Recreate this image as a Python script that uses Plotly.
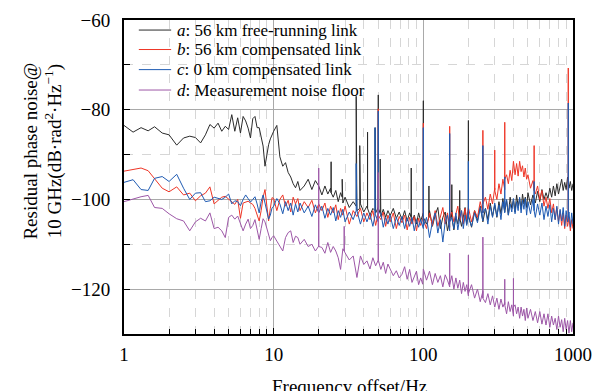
import plotly.graph_objects as go

# ---------------- data ----------------
F_LOW = [1.0, 1.15, 1.3, 1.45, 1.6, 1.8, 2.0, 2.25, 2.5, 2.75, 3.0, 3.25, 3.5, 3.75,
         4.0, 4.25, 4.5, 4.75, 5.0, 5.25, 5.5, 5.75, 6.0, 6.25, 6.5, 6.75, 7.0, 7.25,
         7.5, 7.75, 8.0, 8.25, 8.5, 8.75, 9.0, 9.25, 9.5, 9.75]
F_MID = [10, 10.5, 11, 11.5, 12, 12.5, 13, 13.5, 14, 14.5,
         15, 16, 17, 18, 19, 20, 21, 22, 23, 24, 25, 26, 27, 28, 29, 30,
         32, 34, 36, 38, 40, 42, 44, 46, 48, 50, 52, 54, 56, 58, 60,
         63, 66, 69, 72, 75, 78, 81, 84, 87, 90, 93, 96, 99]
F_HIGH = [100, 105, 110, 115, 120, 125, 130, 135, 140, 145, 150, 155, 160, 165, 170, 175, 180, 185, 190, 195,
          200, 210, 220, 230, 240, 250, 260, 270, 280, 290, 300, 310, 320, 330, 340, 350, 360, 370, 380, 390,
          400, 410, 420, 430, 440, 450, 460, 470, 480, 490,
          500, 520, 540, 560, 580, 600, 620, 640, 660, 680, 700, 720, 740, 760, 780, 800, 820, 840, 860, 880,
          900, 920, 940, 960, 980, 1000]

# a: 56 km free-running link
A_LOW = [-83.5, -85.0, -84.0, -84.7, -83.8, -85.2, -85.6, -87.9, -86.3, -85.9, -86.2, -87.4, -85.6, -83.3,
         -84.1, -83.0, -84.8, -83.7, -84.4, -81.1, -84.8, -81.8, -85.2, -81.5, -82.5, -84.1, -86.3, -82.0,
         -81.5, -84.0, -84.0, -86.0, -88.1, -92.6, -90.0, -87.8, -86.5, -85.6]
A_MID = [-84.8, -83.5, -90.5, -92.6, -91.8, -94.0, -95.0, -96.5, -97.4, -96.0,
         -98.0, -97.0, -95.5, -97.8, -95.8, -97.0, -99.0, -97.0, -98.8, -97.5, -99.5, -98.0, -100.5, -98.5, -100.8, -99.5,
         -101.8, -100.5, -102.5, -101.0, -102.8, -101.5, -103.5, -102.0, -103.0, -101.8, -103.8, -102.2, -104.0, -102.5, -103.6,
         -102.0, -104.2, -102.8, -104.5, -102.5, -104.8, -103.0, -105.0, -103.5, -105.5, -103.0, -104.8, -103.5]
A_HIGH = [-103.0, -105.5, -102.5, -106.0, -103.5, -101.8, -106.5, -104.0, -102.8, -107.0,
          -104.5, -102.5, -106.8, -103.8, -105.5, -102.0, -106.0, -104.2, -101.8, -105.5,
          -103.0, -106.2, -102.5, -104.8, -101.5, -105.0, -102.0, -104.5, -100.8, -103.8,
          -101.2, -104.0, -100.5, -103.2, -99.8, -102.8, -100.2, -103.5, -99.5, -102.0,
          -100.0, -102.8, -99.0, -101.5, -99.8, -102.2, -98.8, -101.0, -99.5, -101.8,
          -98.5, -101.2, -99.0, -100.8, -98.2, -100.5, -97.8, -100.0, -98.5, -99.8,
          -97.5, -99.5, -97.0, -99.2, -96.5, -98.8, -97.2, -95.5, -98.0, -96.2,
          -97.8, -95.0, -97.5, -96.0, -98.0, -96.5]
A_SPIKES = [(24.2, -98.5, -91.6), (28.7, -99.5, -95.5), (35.6, -101.5, -77.0), (37.6, -102.0, -88.0),
            (42.4, -102.0, -85.0), (47.6, -102.5, -84.0), (50.0, -102.0, -76.7), (51.5, -103.0, -91.0),
            (83.0, -104.0, -93.0), (100.0, -104.0, -78.0), (109.0, -104.0, -97.0), (155.0, -104.0, -96.7),
            (175.0, -104.0, -98.0), (200.0, -103.5, -82.4)]

# b: 56 km compensated link
B_LOW = [-93.7, -93.3, -93.0, -93.6, -95.5, -97.5, -98.3, -97.2, -99.0, -98.6, -100.3, -99.2, -98.6, -97.2,
         -101.0, -100.2, -99.5, -99.3, -100.0, -100.6, -101.1, -100.0, -104.2, -100.8, -100.5, -100.4, -100.8, -101.1,
         -102.0, -103.2, -104.8, -102.5, -99.5, -97.8, -101.5, -104.8, -102.0, -99.6]
B_MID = [-99.8, -102.5, -100.0, -99.0, -101.5, -100.2, -102.8, -99.5, -101.0, -99.8,
         -102.5, -100.5, -101.8, -100.2, -103.0, -101.0, -102.5, -100.8, -104.0, -101.5, -103.0, -101.2, -104.5, -102.0, -103.5, -101.5,
         -105.5, -102.5, -103.8, -102.0, -105.0, -103.0, -104.5, -102.5, -105.8, -103.0, -104.5, -102.8, -106.0, -103.5, -105.0,
         -103.0, -106.5, -103.8, -105.2, -103.5, -106.8, -104.0, -105.5, -103.8, -107.0, -104.2, -105.8, -104.5]
B_HIGH = [-104.0, -106.5, -103.0, -105.8, -102.5, -106.0, -103.5, -101.8, -105.5, -103.0,
          -106.2, -102.8, -105.0, -103.2, -101.5, -104.8, -102.5, -105.5, -102.0, -104.5,
          -101.8, -105.0, -102.5, -104.0, -100.5, -103.0, -99.5, -102.2, -98.8, -101.0,
          -97.5, -100.0, -96.5, -98.8, -95.5, -97.8, -94.5, -96.5, -93.5, -95.8,
          -91.5, -94.5, -92.0, -94.8, -91.5, -93.8, -92.5, -95.0, -93.0, -95.5,
          -94.5, -97.5, -95.8, -98.8, -97.0, -100.0, -98.0, -101.5, -99.5, -102.0,
          -99.8, -103.0, -101.0, -104.5, -101.8, -105.0, -102.5, -105.8, -103.0, -106.5,
          -103.5, -106.0, -104.0, -107.0, -104.5, -106.5]
B_SPIKES = [(50.0, -103.5, -79.8), (100.0, -104.5, -83.0), (150.0, -104.0, -83.7), (250.0, -101.0, -84.6),
            (300.0, -98.0, -89.0), (350.0, -95.5, -82.8), (550.0, -98.0, -88.0), (930.0, -105.0, -70.7)]

# c: 0 km compensated link
C_LOW = [-96.2, -95.6, -97.8, -98.0, -95.3, -94.9, -96.0, -94.4, -97.5, -100.0, -98.6, -98.5, -100.5, -100.3,
         -99.5, -99.8, -100.0, -99.5, -98.8, -101.0, -100.3, -100.5, -101.4, -100.0, -99.0, -99.8, -100.6, -100.0,
         -99.4, -101.0, -103.0, -100.5, -99.0, -100.8, -103.0, -104.4, -103.5, -101.9]
C_MID = [-101.5, -99.8, -101.0, -103.2, -100.5, -102.5, -100.8, -103.5, -101.0, -102.8,
         -100.8, -103.0, -101.5, -103.8, -101.2, -103.0, -101.5, -104.2, -102.0, -103.5, -101.8, -104.8, -102.5, -104.0, -102.2, -105.0,
         -102.8, -104.5, -102.5, -105.5, -103.0, -105.0, -103.2, -106.0, -103.5, -105.0, -103.0, -106.2, -104.0, -105.5, -103.5,
         -106.5, -104.0, -105.8, -103.8, -106.5, -104.2, -106.0, -104.0, -107.0, -104.5, -106.2, -104.5, -106.0]
C_HIGH = [-106.5, -104.0, -108.5, -105.0, -103.0, -107.5, -104.5, -109.5, -105.0, -103.5,
          -107.0, -104.0, -106.5, -103.0, -106.8, -104.2, -102.5, -106.5, -103.5, -105.8,
          -102.5, -106.0, -103.0, -105.2, -101.8, -104.8, -102.0, -105.5, -101.5, -104.0,
          -100.8, -103.8, -101.2, -104.5, -100.5, -103.0, -100.0, -103.5, -101.0, -102.8,
          -99.8, -103.2, -100.5, -102.5, -99.5, -103.0, -100.2, -102.2, -99.8, -103.5,
          -100.5, -103.2, -100.0, -104.0, -101.0, -103.5, -100.8, -104.5, -101.5, -103.8,
          -101.2, -105.0, -102.0, -104.5, -101.5, -105.5, -102.2, -104.8, -101.8, -106.0,
          -102.5, -105.0, -102.8, -106.2, -103.0, -105.5]
C_SPIKES = [(35.6, -102.5, -92.0), (47.6, -103.5, -84.0), (50.0, -103.0, -80.3), (100.0, -106.0, -84.0),
            (150.0, -105.0, -85.3), (200.0, -104.0, -91.5), (250.0, -103.0, -88.0), (350.0, -102.0, -95.0),
            (550.0, -102.5, -96.0), (930.0, -104.0, -78.5)]

# d: measurement noise floor
D_LOW = [-100.5, -99.9, -99.4, -99.1, -101.8, -102.0, -103.2, -104.3, -104.8, -107.0, -105.0, -104.2, -104.8, -103.0,
         -106.5, -106.2, -107.0, -108.5, -104.0, -103.5, -104.4, -103.7, -105.5, -107.0, -105.5, -104.4, -106.5, -105.8,
         -104.5, -106.5, -108.9, -106.5, -104.3, -105.0, -106.5, -107.8, -109.2, -108.5]
D_MID = [-108.1, -109.3, -110.5, -111.5, -108.5, -107.4, -107.0, -109.6, -108.2, -108.5,
         -110.0, -108.9, -110.5, -110.0, -111.5, -110.4, -110.7, -112.0, -109.6, -111.8, -110.5, -111.5, -113.0, -115.6, -111.0, -111.9,
         -113.5, -112.6, -117.4, -112.6, -114.5, -113.7, -115.5, -113.0, -114.8, -113.5, -115.6, -114.0, -116.5, -114.4, -115.5,
         -117.0, -115.9, -117.5, -116.7, -115.0, -117.8, -115.6, -118.5, -117.4, -116.0, -119.0, -117.5, -118.9]
D_HIGH = [-115.5, -118.0, -116.0, -119.0, -116.5, -118.5, -117.0, -119.5, -116.8, -118.0,
          -119.5, -117.0, -120.0, -117.5, -119.8, -118.0, -121.0, -118.5, -120.5, -119.0,
          -121.5, -119.0, -122.0, -120.0, -122.8, -120.5, -123.0, -121.0, -123.5, -121.5,
          -124.0, -122.0, -124.5, -122.2, -124.0, -123.0, -125.5, -122.8, -125.0, -123.5,
          -126.0, -123.5, -125.5, -124.0, -126.5, -124.0, -126.0, -124.5, -127.0, -124.2,
          -126.5, -124.5, -127.0, -125.0, -127.5, -125.0, -127.8, -125.5, -128.0, -125.5,
          -128.5, -126.0, -128.0, -126.5, -129.0, -126.0, -128.5, -126.8, -129.5, -126.5,
          -129.0, -127.0, -129.8, -127.0, -129.5, -127.5]
D_SPIKES = [(20.0, -110.5, -93.0), (29.6, -111.5, -106.0), (50.0, -113.5, -94.0), (150.0, -119.0, -112.0),
            (200.0, -121.0, -112.4), (250.0, -122.0, -108.4), (350.0, -123.5, -117.8), (400.0, -124.0, -117.6)]

LETTERS = ["a", "b", "c", "d"]
LABELS = [": 56 km free-running link",
          ": 56 km compensated link",
          ": 0 km compensated link",
          ": Measurement noise floor"]
COLORS = ["#2b2b2b", "#ee3526", "#1f5bb3", "#9d57a7"]

X_TICKS = [1, 10, 100, 1000]
X_MINOR = [2, 3, 4, 5, 6, 7, 8, 9, 20, 30, 40, 50, 60, 70, 80, 90, 200, 300, 400, 500, 600, 700, 800, 900]
Y_TICKS = [-60, -80, -100, -120]
Y_MINOR = [-70, -90, -110, -130]


def build(parts_f, parts_v, spikes):
    pts = []
    for fs, vs in zip(parts_f, parts_v):
        pts += list(zip(fs, vs))
    for f, lo, hi in spikes:
        pts += [(f, lo), (f, hi), (f, lo)]
    pts.sort(key=lambda p: p[0])
    return [p[0] for p in pts], [p[1] for p in pts]


SERIES = [
    (A_LOW, A_MID, A_HIGH, A_SPIKES),
    (B_LOW, B_MID, B_HIGH, B_SPIKES),
    (C_LOW, C_MID, C_HIGH, C_SPIKES),
    (D_LOW, D_MID, D_HIGH, D_SPIKES),
]

FONT = "Liberation Serif, Times New Roman, serif"

fig = go.Figure()
for (lo, mid, hi, sp), letter, label, color in zip(SERIES, LETTERS, LABELS, COLORS):
    x, y = build([F_LOW, F_MID, F_HIGH], [lo, mid, hi], sp)
    fig.add_trace(go.Scatter(x=x, y=y, mode="lines", name=f"<i>{letter}</i>{label}",
                             line=dict(color=color, width=1), showlegend=False))

# legend drawn as a compact block (rows 20 px apart, as in the reference)
shapes = [dict(type="rect", xref="paper", yref="paper", x0=0.004, x1=0.553, y0=0.745, y1=0.996,
               fillcolor="white", line=dict(width=0), layer="below")]
annotations = []
ROW_Y = [0.968, 0.906, 0.842, 0.777]
for ry, letter, label, color in zip(ROW_Y, LETTERS, LABELS, COLORS):
    shapes.append(dict(type="line", xref="paper", yref="paper", x0=0.033, x1=0.105, y0=ry, y1=ry,
                       line=dict(color=color, width=1), layer="above"))
    annotations.append(dict(text=f"<i>{letter}</i>{label}", xref="paper", yref="paper",
                            x=0.113, y=ry, xanchor="left", yanchor="middle", showarrow=False,
                            font=dict(family=FONT, size=17, color="black")))

annotations += [
    dict(text="Residual phase noise@<br>10 GHz(dB·rad<sup>2</sup>·Hz<sup>−1</sup>)",
         xref="paper", yref="paper", x=-0.179, y=0.583, xanchor="center", yanchor="middle",
         textangle=-90, showarrow=False, font=dict(family=FONT, size=19, color="black")),
    dict(text="Frequency offset/Hz", xref="paper", yref="paper", x=0.503, y=-0.166,
         xanchor="center", yanchor="middle", showarrow=False,
         font=dict(family=FONT, size=19, color="black")),
]

fig.update_layout(
    width=596, height=383,
    margin=dict(l=116, r=31, t=12, b=57, autoexpand=False),
    paper_bgcolor="white", plot_bgcolor="white",
    font=dict(family=FONT, size=19, color="black"),
    showlegend=False,
    xaxis=dict(type="log", range=[0, 3], automargin=False,
               tickvals=X_TICKS, ticktext=[str(v) for v in X_TICKS],
               ticks="inside", ticklen=6, tickcolor="black",
               showline=True, linecolor="black", linewidth=2, mirror=True,
               showgrid=True, gridcolor="#a9a9a9", gridwidth=1, zeroline=False,
               ticklabelstandoff=2,
               minor=dict(tickvals=X_MINOR, ticks="inside", ticklen=5, tickcolor="black",
                          showgrid=True, gridcolor="#d6d6d6", griddash="dash", gridwidth=1)),
    yaxis=dict(range=[-130, -60], automargin=False,
               tickvals=Y_TICKS,
               ticks="inside", ticklen=6, tickcolor="black",
               showline=True, linecolor="black", linewidth=2, mirror=True,
               showgrid=True, gridcolor="#a9a9a9", gridwidth=1, zeroline=False,
               ticklabelstandoff=8,
               minor=dict(tickvals=Y_MINOR, ticks="inside", ticklen=6, tickcolor="black",
                          showgrid=True, gridcolor="#d6d6d6", griddash="dash", gridwidth=1)),
    shapes=shapes,
    annotations=annotations,
)

fig.write_html("out.html")
